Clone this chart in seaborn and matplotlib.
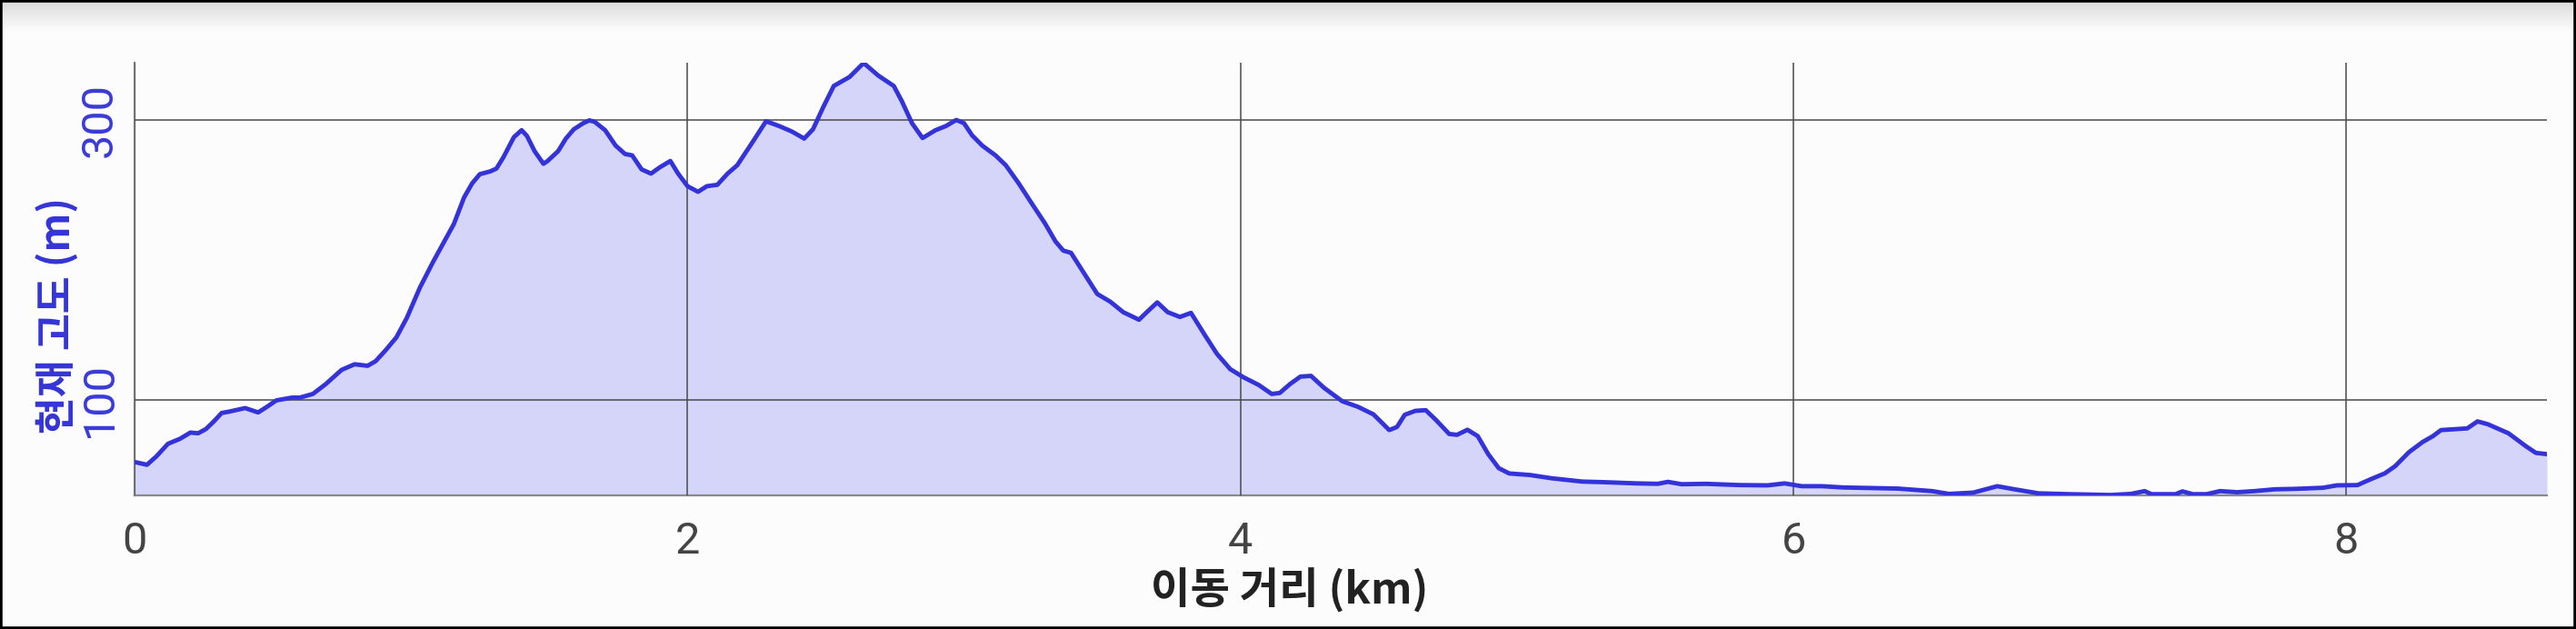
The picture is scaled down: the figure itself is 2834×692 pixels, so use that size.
import numpy as np
import pandas as pd
import matplotlib
matplotlib.use("Agg")
import matplotlib.pyplot as plt
import seaborn as sns
from matplotlib.patches import Rectangle

# 이동 거리 (km)
dist_km = [0.0, 0.045, 0.079, 0.121, 0.164, 0.202, 0.230, 0.258, 0.287, 0.315, 0.343, 0.400, 0.447,
           0.479, 0.513, 0.570, 0.598, 0.645, 0.692, 0.749, 0.796, 0.843, 0.872, 0.909, 0.947, 0.985,
           1.032, 1.080, 1.127, 1.155, 1.192, 1.221, 1.249, 1.287, 1.309, 1.334, 1.372, 1.400, 1.419,
           1.447, 1.479, 1.494, 1.532, 1.560, 1.589, 1.623, 1.645, 1.664, 1.702, 1.740, 1.774, 1.800,
           1.834, 1.868, 1.900, 1.938, 1.966, 2.000, 2.038, 2.070, 2.108, 2.145, 2.180, 2.237, 2.284,
           2.331, 2.378, 2.422, 2.454, 2.491, 2.529, 2.586, 2.637, 2.690, 2.746, 2.775, 2.812, 2.850,
           2.897, 2.935, 2.972, 3.000, 3.029, 3.066, 3.114, 3.151, 3.198, 3.245, 3.293, 3.331, 3.359,
           3.387, 3.444, 3.482, 3.529, 3.576, 3.633, 3.661, 3.699, 3.737, 3.781, 3.821, 3.868, 3.915,
           3.963, 4.010, 4.066, 4.113, 4.142, 4.180, 4.217, 4.255, 4.302, 4.368, 4.425, 4.481, 4.538,
           4.566, 4.594, 4.632, 4.670, 4.707, 4.755, 4.783, 4.821, 4.858, 4.896, 4.934, 4.972, 5.047,
           5.124, 5.236, 5.310, 5.434, 5.509, 5.546, 5.596, 5.682, 5.806, 5.906, 5.968, 6.030, 6.104,
           6.179, 6.303, 6.377, 6.501, 6.563, 6.650, 6.737, 6.799, 6.886, 6.998, 7.146, 7.221, 7.270,
           7.295, 7.382, 7.407, 7.444, 7.494, 7.543, 7.605, 7.667, 7.742, 7.816, 7.916, 7.965, 8.040,
           8.089, 8.139, 8.176, 8.226, 8.275, 8.313, 8.342, 8.387, 8.437, 8.474, 8.511, 8.586, 8.648,
           8.685, 8.725]

# 현재 고도 (m)
alt_m = [56, 54, 60, 69, 72.5, 77, 76.5, 79.5, 85, 91, 92, 94.5, 91.4,
         95.4, 100, 102, 102, 104.6, 111.7, 121.8, 125.8, 124.7, 128, 136, 145, 159,
         180.5, 199, 216, 226, 245, 255, 261.6, 263.6, 265.6, 273.6, 288, 293, 289,
         278, 269, 271, 278, 287, 293.7, 298, 300, 299, 293, 282, 276, 275,
         265, 262, 266.5, 271, 262, 253, 249, 253, 254, 262, 268, 285, 299.4,
         296, 292, 287, 293.7, 309.5, 324.6, 331, 341, 332, 324.6, 313.8, 298, 287.4,
         293, 296, 300.3, 298, 289.4, 282, 275, 268, 255, 240.7, 226.4, 213.5, 207,
         205.4, 187.7, 176, 170.5, 163, 157.6, 163, 170, 163, 159.6, 162.5, 147.6, 133.2,
         122.3, 116.6, 111, 104.6, 105.3, 111.8, 117, 117.5, 109, 99.4, 95.4, 90, 78.8,
         81, 89.7, 92.5, 93, 86, 76, 75.4, 79, 74.5, 61.6, 51.6, 47.8, 46.7,
         44.4, 42, 41.6, 40.7, 40.4, 41.8, 40.1, 40.4, 39.5, 39.3, 40.7, 38.7, 38.7,
         37.8, 37.3, 37, 35.2, 33.2, 34.1, 38.7, 36.5, 33.6, 33, 32.4, 33.2, 35.2,
         33, 33, 35, 33, 33, 35.2, 34.4, 35.2, 36.5, 36.8, 37.6, 39.3, 39.5,
         43.8, 47.9, 53, 63, 70.2, 74.5, 78.8, 79.4, 80, 85, 83, 76.5, 67.4,
         62.5, 61.6]

x_ticks = [0, 2, 4, 6, 8]
y_ticks = [100, 300]

df = pd.DataFrame({"dist": dist_km, "alt": alt_m})

sns.set_theme(style="white")
plt.rcParams["font.family"] = ["Roboto", "Noto Sans CJK KR", "DejaVu Sans"]

W, H = 2834, 692
fig = plt.figure(figsize=(W / 100, H / 100), dpi=100)
fig.patch.set_facecolor("#fcfcfc")

# 위쪽 그림자
shade = fig.add_axes([0, 1 - 34 / H, 1, 34 / H])
grad = np.linspace(0, 1, 64).reshape(-1, 1)
shade.imshow(grad, aspect="auto", cmap=matplotlib.colors.LinearSegmentedColormap.from_list(
    "sh", ["#dadada", "#fcfcfc"]), extent=[0, 1, 0, 1], origin="upper")
shade.axis("off")

left, right = 148 / W, 2802 / W
bottom, top = 1 - 544.6 / H, 1 - 69.3 / H
ax = fig.add_axes([left, bottom, right - left, top - bottom])
ax.set_facecolor("#fcfcfc")

line_c = "#3333d9"
ax.fill_between(df["dist"], df["alt"], df["alt"].min(), color="#d5d5fa", zorder=1, linewidth=0)
sns.lineplot(data=df, x="dist", y="alt", ax=ax, color=line_c, linewidth=3.5, zorder=3,
             solid_joinstyle="round", solid_capstyle="round")

ax.set_xlim(0, max(dist_km))
ax.set_ylim(min(alt_m), max(alt_m))
ax.set_xticks(x_ticks)
ax.set_yticks(y_ticks)
ax.grid(True, color="#4a4a4a", linewidth=1.1, zorder=2)
ax.set_axisbelow(False)

for s in ["top", "right"]:
    ax.spines[s].set_visible(False)
for s in ["left", "bottom"]:
    ax.spines[s].set_color("#8a8a8a")
    ax.spines[s].set_linewidth(1.6)

ax.tick_params(axis="x", length=12.5, width=1.1, color="#8a8a8a", pad=8, labelsize=35, labelcolor="#444444")
ax.tick_params(axis="y", length=6, width=1.1, color="#5555e0", pad=5, labelsize=35, labelcolor="#3a3ad8")
for t in ax.get_xticklabels():
    t.set_fontfamily(["Roboto", "DejaVu Sans"])
for t in ax.get_yticklabels():
    t.set_rotation(90)
    t.set_va("center")
    t.set_fontfamily(["Roboto", "DejaVu Sans"])

ax.set_xlabel("이동 거리 (km)", fontsize=34, fontweight="bold", color="#222222",
              family=["Noto Sans CJK KR", "DejaVu Sans"])
ax.xaxis.set_label_coords((1418.6 - 148) / 2654, -(650 - 544.6) / 475.3)
ax.xaxis.label.set_va("center")
ax.set_ylabel("현재 고도 (m)", fontsize=32, fontweight="bold", color="#3434d8",
              family=["Noto Sans CJK KR", "DejaVu Sans"])
ax.yaxis.set_label_coords((63 - 148) / 2654, (544.6 - 347) / 475.3)
ax.yaxis.label.set_va("center")

# 테두리
fig.patches.append(Rectangle((0, 0), 1, 1, transform=fig.transFigure, fill=False,
                             edgecolor="black", linewidth=4, zorder=10))

fig.savefig("out.png", dpi=100, facecolor=fig.get_facecolor())
